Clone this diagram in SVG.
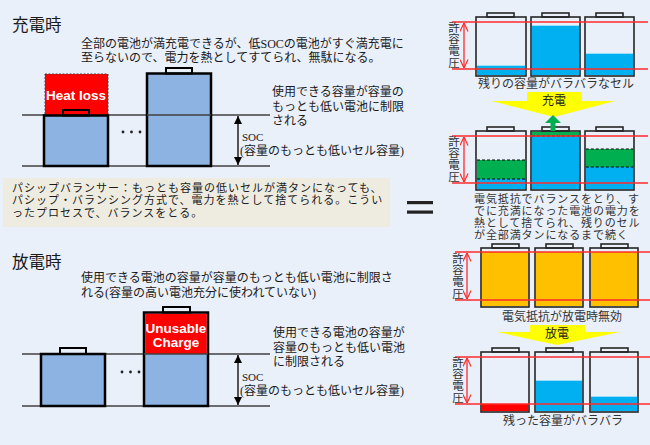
<svg xmlns="http://www.w3.org/2000/svg" width="650" height="445" viewBox="0 0 650 445">
<defs>
<style>
.jp{font-family:"Liberation Serif","Noto Sans CJK JP",serif;fill:#1a1a1a;font-size:12px}
.sm{font-size:11px}
.hd{font-family:"Noto Sans CJK JP",sans-serif;font-size:16.5px}
.rt{fill:#333}
.vt{font-family:"Noto Sans CJK JP",sans-serif;fill:#333;font-size:11.5px;writing-mode:vertical-rl;letter-spacing:0.2px}
.lbl{font-family:"Liberation Sans","DejaVu Sans",sans-serif;font-weight:bold;font-size:13.5px;fill:#fff;text-anchor:middle}
.lbat{fill:#8DB3E2;stroke:#000;stroke-width:2.5}
.term{fill:none;stroke:#000;stroke-width:2}
.lvl{stroke:#404040;stroke-width:1.5;fill:none}
.rbat{fill:none;stroke:#262626;stroke-width:1.6}
.redl{stroke:#FF2A2A;stroke-width:1.3;fill:none}
.blue{fill:#00B0F0}
.hl{stroke:#9BE0F8;stroke-width:1}
.green{fill:#00B050}
.org{fill:#FFC000}
.dash{stroke:#000;stroke-width:1;stroke-dasharray:3 2;fill:none}
.yel{fill:#FFFF00}
</style>
<marker id="ah" viewBox="0 0 10 10" refX="10" refY="5" markerWidth="8" markerHeight="8" markerUnits="userSpaceOnUse" orient="auto-start-reverse">
<path d="M0,0 L10,5 L0,10 z" fill="#000"/>
</marker>
<marker id="rh" viewBox="0 0 10 10" refX="9.5" refY="5" markerWidth="9" markerHeight="9" markerUnits="userSpaceOnUse" orient="auto-start-reverse">
<path d="M0,0.5 L9.5,5 L0,9.5" fill="none" stroke="#FF2A2A" stroke-width="1.3"/>
</marker>
</defs>
<rect x="0" y="0" width="650" height="445" fill="#EAF0FA"/>

<!-- Charging section -->
<g id="charge-section">
<text class="hd" x="12" y="31" fill="#1a1a1a">充電時</text>
<text class="jp" x="81" y="48">全部の電池が満充電できるが、低SOCの電池がすぐ満充電に<tspan x="81" dy="13.5">至らないので、電力を熱としてすてられ、無駄になる。</tspan></text>
</g>
<g id="charge-levels">
<line class="lvl" x1="22" y1="115" x2="270" y2="115"/>
<line class="lvl" x1="22" y1="166" x2="270" y2="166"/>
</g>
<g id="heat-loss-cell">
<rect x="45" y="74" width="63" height="41" fill="#FF0000" stroke="#444" stroke-width="1" stroke-dasharray="2 1.5"/>
<text class="lbl" x="76" y="100" font-size="13">Heat loss</text>
<rect class="lbat" x="44" y="115.5" width="64" height="50.5"/>
<rect class="term" x="63" y="110" width="26" height="5.5"/>
</g>
<g id="charge-dots">
<circle cx="123" cy="132" r="1.4" fill="#222"/>
<circle cx="131.5" cy="132" r="1.4" fill="#222"/>
<circle cx="140" cy="132" r="1.4" fill="#222"/>
</g>
<g id="full-cell">
<rect class="lbat" x="147" y="73.5" width="64" height="92.5"/>
<rect class="term" x="166" y="68" width="26" height="5.5"/>
<line class="lvl" x1="147" y1="115" x2="211" y2="115"/>
</g>
<g id="charge-notes">
<text class="jp" x="272" y="96">使用できる容量が容量の<tspan x="272" dy="14.5">もっとも低い電池に制限</tspan><tspan x="272" dy="14.5">される</tspan></text>
<text class="jp" x="242" y="141"><tspan class="sm">SOC</tspan><tspan x="240" dy="14">(容量のもっとも低いセル容量)</tspan></text>
</g>

<!-- Passive balancer note -->
<g id="passive-note">
<rect x="3" y="178" width="387" height="49" fill="#EEECE1"/>
<text class="jp sm" x="12" y="192" letter-spacing="1">パシップバランサー：もっとも容量の低いセルが満タンになっても、<tspan x="12" dy="12.3">パシップ・バランシング方式で、電力を熱として捨てられる。こうい</tspan><tspan x="12" dy="12.3">ったプロセスで、バランスをとる。</tspan></text>
</g>
<g id="equals">
<rect x="407" y="201" width="26" height="3.2" fill="#222"/>
<rect x="407" y="210.5" width="26" height="3.2" fill="#222"/>
</g>

<!-- Discharging section -->
<g id="discharge-section">
<text class="hd" x="12" y="268" fill="#1a1a1a">放電時</text>
<text class="jp" x="81" y="282">使用できる電池の容量が容量のもっとも低い電池に制限さ<tspan x="81" dy="15">れる(容量の高い電池充分に使われていない)</tspan></text>
</g>
<g id="discharge-levels">
<line class="lvl" x1="22" y1="354" x2="270" y2="354"/>
<line class="lvl" x1="22" y1="406" x2="270" y2="406"/>
</g>
<g id="low-cell">
<rect class="lbat" x="41" y="354" width="64" height="52"/>
<rect class="term" x="60" y="348" width="26" height="6"/>
</g>
<g id="discharge-dots">
<circle cx="122" cy="372" r="1.4" fill="#222"/>
<circle cx="130.5" cy="372" r="1.4" fill="#222"/>
<circle cx="139" cy="372" r="1.4" fill="#222"/>
</g>
<g id="unusable-cell">
<rect class="lbat" x="144" y="312.5" width="64" height="93.5"/>
<rect x="145.3" y="313.8" width="61.4" height="40.2" fill="#FF0000"/>
<rect class="term" x="163" y="307" width="27" height="5.5"/>
<line class="lvl" x1="144" y1="354" x2="208" y2="354"/>
<text class="lbl" x="176" y="333">Unusable<tspan x="176" dy="13.5">Charge</tspan></text>
</g>
<g id="discharge-notes">
<text class="jp" x="273" y="337">使用できる電池の容量が<tspan x="273" dy="15">容量のもっとも低い電池</tspan><tspan x="273" dy="14">に制限される</tspan></text>
<text class="jp" x="242" y="380.5"><tspan class="sm">SOC</tspan><tspan x="240" dy="14.5">(容量のもっとも低いセル容量)</tspan></text>
</g>

<!-- Right panel A: before charging -->
<g id="cells-before">
<rect class="blue" x="477" y="65" width="48" height="10.2"/>
<line class="hl" x1="477" y1="65.5" x2="525" y2="65.5"/>
<rect class="blue" x="531.8" y="25" width="47.4" height="50.2"/>
<line class="hl" x1="531.8" y1="25.5" x2="579.2" y2="25.5"/>
<rect class="blue" x="585.8" y="53" width="47.4" height="22.2"/>
<line class="hl" x1="585.8" y1="53.5" x2="633.2" y2="53.5"/>
<rect class="rbat" x="476" y="17" width="50" height="59"/>
<rect class="rbat" x="487" y="13" width="27" height="4"/>
<rect class="rbat" x="531" y="17" width="49" height="59"/>
<rect class="rbat" x="542" y="13" width="27" height="4"/>
<rect class="rbat" x="585" y="17" width="49" height="59"/>
<rect class="rbat" x="596" y="13" width="27" height="4"/>
<line class="redl" x1="452" y1="22" x2="648" y2="22"/>
<line class="redl" x1="452" y1="69" x2="648" y2="69"/>
<text class="vt" x="454" y="21.5">許容電圧</text>
<text class="jp rt" x="478" y="88">残りの容量がバラバラなセル</text>
</g>

<!-- Right panel B: balancing -->
<g id="cells-balancing">
<rect class="green" x="477" y="160" width="48" height="19"/>
<rect class="blue" x="477" y="179" width="48" height="10.2"/>
<line class="dash" x1="477" y1="160" x2="525" y2="160"/>
<line class="dash" x1="477" y1="179" x2="525" y2="179"/>
<rect class="green" x="531.8" y="131.8" width="47.4" height="4.2"/>
<rect class="blue" x="531.8" y="136" width="47.4" height="53.2"/>
<line class="dash" x1="531.8" y1="136" x2="579.2" y2="136"/>
<rect class="green" x="585.8" y="149" width="47.4" height="18"/>
<rect class="blue" x="585.8" y="167" width="47.4" height="22.2"/>
<line class="dash" x1="585.8" y1="149" x2="633.2" y2="149"/>
<line class="dash" x1="585.8" y1="167" x2="633.2" y2="167"/>
<rect class="rbat" x="476" y="131" width="50" height="59"/>
<rect class="rbat" x="487" y="127" width="27" height="4"/>
<rect class="rbat" x="531" y="131" width="49" height="59"/>
<rect class="rbat" x="542" y="127" width="27" height="4"/>
<rect class="rbat" x="585" y="131" width="49" height="59"/>
<rect class="rbat" x="596" y="127" width="27" height="4"/>
<line class="redl" x1="452" y1="136" x2="648" y2="136"/>
<line class="redl" x1="452" y1="183" x2="648" y2="183"/>
<text class="vt" x="454" y="135.5">許容電圧</text>
<text class="jp rt sm" x="474" y="202.5" letter-spacing="0.9">電気抵抗でバランスをとり、す<tspan x="474" dy="12.25">でに充満になった電池の電力を</tspan><tspan x="474" dy="12.25">熱として捨てられ、残りのセル</tspan><tspan x="474" dy="12.25">が全部満タンになるまで続く</tspan></text>
</g>

<!-- Right panel C: full -->
<g id="cells-full">
<rect class="org" x="481.8" y="252" width="46.4" height="54.2"/>
<rect class="org" x="535.8" y="252" width="46.4" height="54.2"/>
<rect class="org" x="590.8" y="252" width="46.4" height="54.2"/>
<rect class="rbat" x="481" y="248" width="48" height="59"/>
<rect class="rbat" x="492" y="244" width="27" height="4"/>
<rect class="rbat" x="535" y="248" width="48" height="59"/>
<rect class="rbat" x="546" y="244" width="27" height="4"/>
<rect class="rbat" x="590" y="248" width="48" height="59"/>
<rect class="rbat" x="601" y="244" width="27" height="4"/>
<line class="redl" x1="455" y1="252" x2="650" y2="252"/>
<line class="redl" x1="455" y1="300" x2="650" y2="300"/>
<text class="vt" x="458" y="252.5">許容電圧</text>
<text class="jp rt" x="502" y="320.5">電気抵抗が放電時無効</text>
</g>

<!-- Right panel D: after discharge -->
<g id="cells-after">
<rect x="481.8" y="404" width="46.4" height="7.2" fill="#FF0000"/>
<rect class="blue" x="535.8" y="380" width="46.4" height="31.2"/>
<line class="hl" x1="535.8" y1="380.5" x2="582.2" y2="380.5"/>
<rect class="blue" x="590.8" y="396" width="46.4" height="15.2"/>
<line class="hl" x1="590.8" y1="396.5" x2="637.2" y2="396.5"/>
<rect class="rbat" x="481" y="352" width="48" height="60"/>
<rect class="rbat" x="492" y="348" width="27" height="4"/>
<rect class="rbat" x="535" y="352" width="48" height="60"/>
<rect class="rbat" x="546" y="348" width="27" height="4"/>
<rect class="rbat" x="590" y="352" width="48" height="60"/>
<rect class="rbat" x="601" y="348" width="27" height="4"/>
<line class="redl" x1="455" y1="357" x2="650" y2="357"/>
<line class="redl" x1="455" y1="404" x2="650" y2="404"/>
<text class="vt" x="458" y="356.5">許容電圧</text>
<text class="jp rt" x="503" y="424.5">残った容量がバラバラ</text>
</g>

<!-- Connectors -->
<g id="connectors">
<line x1="238" y1="116" x2="238" y2="165" stroke="#000" stroke-width="1.3" marker-start="url(#ah)" marker-end="url(#ah)"/>
<line x1="238" y1="355" x2="238" y2="405" stroke="#000" stroke-width="1.3" marker-start="url(#ah)" marker-end="url(#ah)"/>
<line class="redl" x1="464" y1="23" x2="464" y2="68" marker-start="url(#rh)" marker-end="url(#rh)"/>
<line class="redl" x1="464" y1="137" x2="464" y2="182" marker-start="url(#rh)" marker-end="url(#rh)"/>
<line class="redl" x1="467" y1="253" x2="467" y2="299" marker-start="url(#rh)" marker-end="url(#rh)"/>
<line class="redl" x1="467" y1="358" x2="467" y2="403" marker-start="url(#rh)" marker-end="url(#rh)"/>
<polygon class="yel" points="527,92 582,92 582,101 615,101 554,117 492,101 527,101"/>
<text class="jp" x="554" y="104.5" text-anchor="middle">充電</text>
<polygon class="yel" points="530,325 585,325 585,332 620,332 557,345 497,332 530,332"/>
<text class="jp" x="557" y="337.5" text-anchor="middle">放電</text>
<polygon points="553,115 561,123 555.5,123 555.5,131 550.5,131 550.5,123 545,123" fill="#00B050"/>
</g>
</svg>
